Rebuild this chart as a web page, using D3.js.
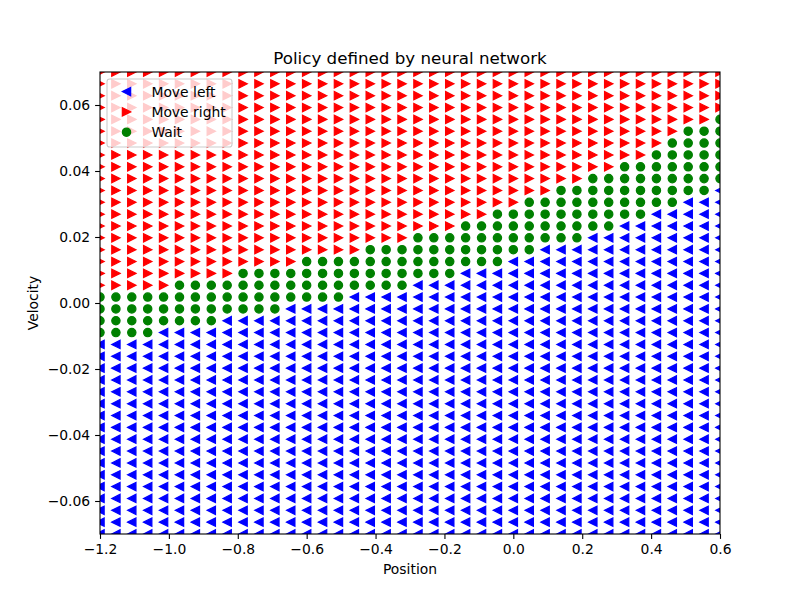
<!DOCTYPE html>
<html><head><meta charset="utf-8">
<script src="https://cdn.jsdelivr.net/npm/d3@7"></script>
<style>body{margin:0;background:#fff} text{font-family:"DejaVu Sans",sans-serif;fill:#000}</style>
</head><body><svg id="c" width="800" height="600"></svg>
<script>
// Grid of evaluated states
const positions = [-1.2,-1.1538,-1.1077,-1.0615,-1.0154,-0.9692,-0.9231,-0.8769,-0.8308,-0.7846,
  -0.7385,-0.6923,-0.6462,-0.6,-0.5538,-0.5077,-0.4615,-0.4154,-0.3692,-0.3231,
  -0.2769,-0.2308,-0.1846,-0.1385,-0.0923,-0.0462,0.0,0.0462,0.0923,0.1385,
  0.1846,0.2308,0.2769,0.3231,0.3692,0.4154,0.4615,0.5077,0.5538,0.6];
const velocities = [-0.07,-0.06641,-0.06282,-0.05923,-0.05564,-0.05205,-0.04846,-0.04487,-0.04128,-0.03769,
  -0.0341,-0.03051,-0.02692,-0.02333,-0.01974,-0.01615,-0.01256,-0.00897,-0.00538,-0.00179,
  0.00179,0.00538,0.00897,0.01256,0.01615,0.01974,0.02333,0.02692,0.03051,0.0341,
  0.03769,0.04128,0.04487,0.04846,0.05205,0.05564,0.05923,0.06282,0.06641,0.07];
// Policy per velocity row, top row = highest velocity; one char per position (L=left, R=right, W=wait)
const policyRows = [
  "RRRRRRRRRRRRRRRRRRRRRRRRRRRRRRRRRRRRRRRR",
  "RRRRRRRRRRRRRRRRRRRRRRRRRRRRRRRRRRRRRRRR",
  "RRRRRRRRRRRRRRRRRRRRRRRRRRRRRRRRRRRRRRRR",
  "RRRRRRRRRRRRRRRRRRRRRRRRRRRRRRRRRRRRRRRR",
  "RRRRRRRRRRRRRRRRRRRRRRRRRRRRRRRRRRRRRRRW",
  "RRRRRRRRRRRRRRRRRRRRRRRRRRRRRRRRRRRRRWWW",
  "RRRRRRRRRRRRRRRRRRRRRRRRRRRRRRRRRRRRWWWW",
  "RRRRRRRRRRRRRRRRRRRRRRRRRRRRRRRRRRRWWWWW",
  "RRRRRRRRRRRRRRRRRRRRRRRRRRRRRRRRRWWWWWWW",
  "RRRRRRRRRRRRRRRRRRRRRRRRRRRRRRRWWWWWWWWW",
  "RRRRRRRRRRRRRRRRRRRRRRRRRRRRRWWWWWWWWWWL",
  "RRRRRRRRRRRRRRRRRRRRRRRRRRRWWWWWWWWWWLLL",
  "RRRRRRRRRRRRRRRRRRRRRRRRRWWWWWWWWWWLLLLL",
  "RRRRRRRRRRRRRRRRRRRRRRRWWWWWWWWWWLLLLLLL",
  "RRRRRRRRRRRRRRRRRRRRWWWWWWWWWWWLLLLLLLLL",
  "RRRRRRRRRRRRRRRRRWWWWWWWWWWWLLLLLLLLLLLL",
  "RRRRRRRRRRRRRWWWWWWWWWWWWWLLLLLLLLLLLLLL",
  "RRRRRRRRRWWWWWWWWWWWWWWLLLLLLLLLLLLLLLLL",
  "RRRRRWWWWWWWWWWWWWWWLLLLLLLLLLLLLLLLLLLL",
  "WWWWWWWWWWWWWWWWLLLLLLLLLLLLLLLLLLLLLLLL",
  "WWWWWWWWWWWWLLLLLLLLLLLLLLLLLLLLLLLLLLLL",
  "WWWWWWWWLLLLLLLLLLLLLLLLLLLLLLLLLLLLLLLL",
  "WWWWLLLLLLLLLLLLLLLLLLLLLLLLLLLLLLLLLLLL",
  "LLLLLLLLLLLLLLLLLLLLLLLLLLLLLLLLLLLLLLLL",
  "LLLLLLLLLLLLLLLLLLLLLLLLLLLLLLLLLLLLLLLL",
  "LLLLLLLLLLLLLLLLLLLLLLLLLLLLLLLLLLLLLLLL",
  "LLLLLLLLLLLLLLLLLLLLLLLLLLLLLLLLLLLLLLLL",
  "LLLLLLLLLLLLLLLLLLLLLLLLLLLLLLLLLLLLLLLL",
  "LLLLLLLLLLLLLLLLLLLLLLLLLLLLLLLLLLLLLLLL",
  "LLLLLLLLLLLLLLLLLLLLLLLLLLLLLLLLLLLLLLLL",
  "LLLLLLLLLLLLLLLLLLLLLLLLLLLLLLLLLLLLLLLL",
  "LLLLLLLLLLLLLLLLLLLLLLLLLLLLLLLLLLLLLLLL",
  "LLLLLLLLLLLLLLLLLLLLLLLLLLLLLLLLLLLLLLLL",
  "LLLLLLLLLLLLLLLLLLLLLLLLLLLLLLLLLLLLLLLL",
  "LLLLLLLLLLLLLLLLLLLLLLLLLLLLLLLLLLLLLLLL",
  "LLLLLLLLLLLLLLLLLLLLLLLLLLLLLLLLLLLLLLLL",
  "LLLLLLLLLLLLLLLLLLLLLLLLLLLLLLLLLLLLLLLL",
  "LLLLLLLLLLLLLLLLLLLLLLLLLLLLLLLLLLLLLLLL",
  "LLLLLLLLLLLLLLLLLLLLLLLLLLLLLLLLLLLLLLLL",
  "LLLLLLLLLLLLLLLLLLLLLLLLLLLLLLLLLLLLLLLL"
];
const actionCodes = ["L","R","W"];
const actionLabels = ["Move left","Move right","Wait"];
const actionColors = ["#0000ff","#ff0000","#008000"];
const xTicks = [-1.2,-1.0,-0.8,-0.6,-0.4,-0.2,0.0,0.2,0.4,0.6];
const yTicks = [-0.06,-0.04,-0.02,0.00,0.02,0.04,0.06];
const titleText = "Policy defined by neural network";
const xLabel = "Position", yLabel = "Velocity";

const svg = d3.select("#c");
const L = 100, R = 720, T = 72, B = 534;
const x = d3.scaleLinear().domain([-1.2, 0.6]).range([L, R]);
const y = d3.scaleLinear().domain([-0.07, 0.07]).range([B, T]);

// build points
const pts = [];
policyRows.forEach((row, r) => {
  const v = velocities[velocities.length - 1 - r];
  for (let i = 0; i < row.length; i++) pts.push({p: positions[i], v, a: actionCodes.indexOf(row[i])});
});

svg.append("defs").append("clipPath").attr("id","clip")
  .append("rect").attr("x",L).attr("y",T).attr("width",R-L).attr("height",B-T);

const s = 8.33, lw = 1.2;
const shapes = [
  `M${-s/2},0L${s/2},${-s/2}L${s/2},${s/2}Z`,
  `M${s/2},0L${-s/2},${-s/2}L${-s/2},${s/2}Z`,
  null
];
function drawMarker(g, a) {
  if (a === 2) return g.append("circle").attr("r", s/2).attr("fill", actionColors[a]).attr("stroke", actionColors[a]).attr("stroke-width", lw);
  return g.append("path").attr("d", shapes[a]).attr("fill", actionColors[a]).attr("stroke", actionColors[a]).attr("stroke-width", lw).attr("stroke-linejoin","miter");
}

const plot = svg.append("g").attr("clip-path","url(#clip)");
[0,1,2].forEach(a => {
  pts.filter(d => d.a === a).forEach(d => {
    const g = plot.append("g").attr("transform", `translate(${x(d.p)},${y(d.v)})`);
    drawMarker(g, a);
  });
});

// axes
const fmtX = d3.format(".1f"), fmtY = d3.format(".2f");
const ax = svg.append("g").attr("transform", `translate(0,${B})`)
  .call(d3.axisBottom(x).tickValues(xTicks).tickFormat(fmtX).tickSize(4.9).tickPadding(4.9));
const ay = svg.append("g").attr("transform", `translate(${L},0)`)
  .call(d3.axisLeft(y).tickValues(yTicks).tickFormat(fmtY).tickSize(4.9).tickPadding(4.9));
[ax, ay].forEach(g => {
  g.select(".domain").remove();
  g.selectAll("line").attr("stroke","#000").attr("stroke-width",1.1);
  g.selectAll("text").style("font-family","DejaVu Sans").style("font-size","13.9px").attr("fill","#000");
});
svg.append("rect").attr("x",L).attr("y",T).attr("width",R-L).attr("height",B-T)
  .attr("fill","none").attr("stroke","#000").attr("stroke-width",1.1);

svg.append("text").attr("x",(L+R)/2).attr("y",T-8.5).attr("text-anchor","middle")
  .style("font-size","16.7px").text(titleText);
svg.append("text").attr("x",(L+R)/2).attr("y",574).attr("text-anchor","middle")
  .style("font-size","13.9px").text(xLabel);
svg.append("text").attr("transform",`translate(38,${(T+B)/2}) rotate(-90)`).attr("text-anchor","middle")
  .style("font-size","13.9px").text(yLabel);

// legend
const lg = svg.append("g");
lg.append("rect").attr("x",107).attr("y",79).attr("width",125).attr("height",68).attr("rx",2.8)
  .attr("fill","#fff").attr("fill-opacity",0.8).attr("stroke","#cccccc").attr("stroke-width",1.1);
const rowsY = [91.6, 111.9, 132.2];
actionLabels.forEach((lab, a) => {
  const g = lg.append("g").attr("transform", `translate(126.5,${rowsY[a]})`);
  drawMarker(g, a);
  lg.append("text").attr("x",151.4).attr("y",rowsY[a]).attr("dy","0.36em")
    .style("font-size","13.9px").text(lab);
});
</script></body></html>
